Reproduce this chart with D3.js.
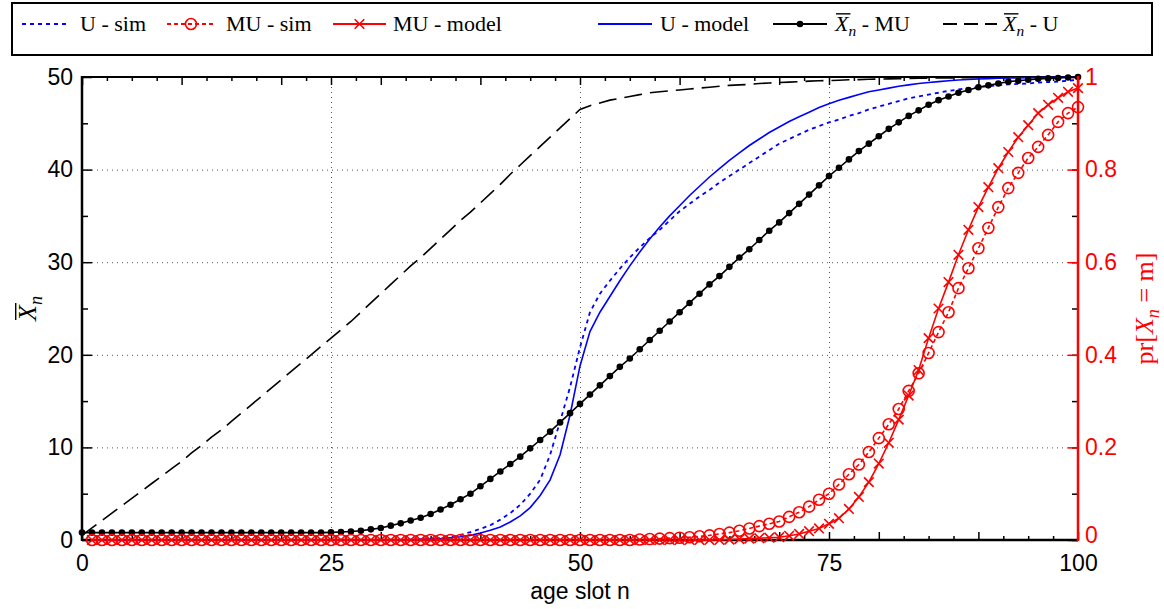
<!DOCTYPE html>
<html>
<head>
<meta charset="utf-8">
<script src="https://cdn.jsdelivr.net/npm/d3@7"></script>
<style>
body{margin:0;background:#fff;}
svg{display:block;}
</style>
</head>
<body>
<svg id="c" width="1164" height="609"></svg>
<script>
// ---------------- DATA ----------------
const ageSlots = d3.range(0, 101);

const xbarU = [0.5,1.3,2.1,2.9,3.7,4.5,5.3,6.1,6.9,7.7,
 8.5,9.4,10.2,11.1,11.9,12.8,13.7,14.6,15.5,16.4,
 17.3,18.2,19.1,20.0,20.9,21.8,22.7,23.6,24.6,25.6,
 26.6,27.6,28.6,29.6,30.5,31.5,32.5,33.5,34.5,35.4,
 36.4,37.4,38.4,39.5,40.5,41.5,42.5,43.5,44.5,45.5,
 46.5,46.9,47.2,47.5,47.7,47.9,48.1,48.3,48.4,48.5,
 48.6,48.7,48.8,48.9,49.0,49.1,49.15,49.2,49.3,49.35,
 49.4,49.45,49.5,49.55,49.6,49.62,49.65,49.7,49.72,49.75,
 49.78,49.8,49.82,49.84,49.86,49.88,49.89,49.9,49.91,49.92,
 49.93,49.94,49.95,49.96,49.97,49.97,49.98,49.98,49.99,49.99,
 50];

const xbarMU = [0.8,0.8,0.8,0.8,0.8,0.8,0.8,0.8,0.8,0.8,
 0.8,0.8,0.8,0.8,0.8,0.8,0.8,0.8,0.8,0.8,
 0.8,0.8,0.8,0.8,0.8,0.82,0.86,0.92,1.0,1.15,
 1.3,1.55,1.8,2.1,2.4,2.8,3.3,3.8,4.4,5.0,
 5.8,6.6,7.4,8.2,9.0,9.9,10.8,11.7,12.7,13.7,
 14.7,15.7,16.7,17.7,18.7,19.6,20.6,21.6,22.6,23.6,
 24.6,25.6,26.6,27.6,28.5,29.5,30.5,31.4,32.4,33.4,
 34.3,35.3,36.3,37.3,38.3,39.3,40.2,41.1,42.0,42.8,
 43.6,44.4,45.1,45.8,46.4,47.0,47.5,47.9,48.3,48.6,
 48.9,49.1,49.3,49.5,49.6,49.7,49.8,49.85,49.9,49.95,
 50];

const uModel = [null,0,0,0,0,0,0,0,0,0,
 0,0,0,0,0,0,0,0,0,0,
 0,0,0,0,0,0,0,0,0,0,
 0,0.02,0.03,0.05,0.07,0.1,0.15,0.25,0.35,0.5,
 0.75,1.05,1.4,1.95,2.6,3.5,4.8,6.5,9.2,13.5,
 18.8,22.5,24.6,26.3,28.0,29.6,31.1,32.5,33.8,35.0,
 36.1,37.2,38.2,39.2,40.1,41.0,41.8,42.6,43.3,44.0,
 44.6,45.2,45.7,46.2,46.7,47.1,47.5,47.8,48.1,48.4,
 48.6,48.8,49.0,49.15,49.3,49.4,49.5,49.6,49.67,49.73,
 49.78,49.82,49.86,49.89,49.91,49.93,49.95,49.96,49.97,49.98,
 50];

const uSim = [null,0,0,0,0,0,0,0,0,0,
 0,0,0,0,0,0,0,0,0,0,
 0,0,0,0,0,0,0,0,0,0,
 0,0,0,0,0.05,0.1,0.2,0.35,0.55,0.85,
 1.2,1.6,2.2,2.9,3.8,5.0,6.5,9.2,12.8,16.5,
 20.8,24.6,26.6,28.0,29.3,30.5,31.6,32.6,33.5,34.5,
 35.5,36.3,37.1,37.8,38.6,39.3,40.0,40.7,41.4,42.1,
 42.8,43.3,43.8,44.3,44.7,45.1,45.4,45.8,46.1,46.5,
 46.8,47.1,47.4,47.7,47.9,48.1,48.3,48.5,48.65,48.8,
 48.9,49.0,49.1,49.2,49.25,49.3,49.4,49.45,49.5,49.6,
 49.7];

const muSim = [null,0,0,0,0,0,0,0,0,0,
 0,0,0,0,0,0,0,0,0,0,
 0,0,0,0,0,0,0,0,0,0,
 0,0,0,0,0,0,0,0,0,0,
 0,0,0,0,0,0,0,0,0,0,
 0,0,0,0,0,0,0.001,0.002,0.003,0.004,
 0.005,0.006,0.008,0.010,0.013,0.016,0.020,0.025,0.030,0.035,
 0.040,0.050,0.060,0.072,0.087,0.100,0.120,0.142,0.163,0.190,
 0.220,0.250,0.283,0.322,0.360,0.404,0.449,0.492,0.544,0.587,
 0.630,0.674,0.719,0.760,0.793,0.825,0.849,0.875,0.903,0.922,
 0.935];

const muModel = [null,0,0,0,0,0,0,0,0,0,
 0,0,0,0,0,0,0,0,0,0,
 0,0,0,0,0,0,0,0,0,0,
 0,0,0,0,0,0,0,0,0,0,
 0,0,0,0,0,0,0,0,0,0,
 0,0,0,0,0,0,0,0,0,0,
 0,0,0,0,0,0.001,0.002,0.003,0.004,0.005,
 0.006,0.009,0.013,0.019,0.025,0.035,0.047,0.067,0.093,0.125,
 0.165,0.210,0.260,0.312,0.367,0.436,0.500,0.557,0.616,0.670,
 0.719,0.762,0.803,0.838,0.870,0.896,0.922,0.940,0.955,0.968,
 0.976];

const xTickLabels = [0, 25, 50, 75, 100];
const yLeftTickLabels = [0, 10, 20, 30, 40, 50];
const yRightTickLabels = [0, 0.2, 0.4, 0.6, 0.8, 1];
const xGridValues = [25, 50, 75];
const yGridValues = [10, 20, 30, 40];
const legendLabels = ["U - sim", "MU - sim", "MU - model", "U - model", " - MU", " - U"];

// ---------------- LAYOUT ----------------
const svg = d3.select('#c');
const L = 82, R = 1078, T = 77, B = 540;
const x = d3.scaleLinear().domain([0, 100]).range([L, R]);
const yL = d3.scaleLinear().domain([0, 50]).range([B, T]);
const yR = d3.scaleLinear().domain([0, 1]).range([B, T]);
const SANS = '"Liberation Sans", Arial, Helvetica, sans-serif';
const SERIF = '"Liberation Serif", "Times New Roman", "DejaVu Serif", serif';
const RED = '#ff0000', BLUE = '#0000ff';
const TICKFONT = '23px';

svg.append('rect').attr('width', 1164).attr('height', 609).attr('fill', '#fff');

// grid
const grid = svg.append('g').attr('stroke', '#555').attr('stroke-width', 1)
  .attr('stroke-dasharray', '1,4');
grid.selectAll('.gx').data(xGridValues).enter().append('line')
  .attr('x1', d => x(d) + 0.5).attr('x2', d => x(d) + 0.5).attr('y1', T).attr('y2', B);
grid.selectAll('.gy').data(yGridValues).enter().append('line')
  .attr('y1', d => yL(d) + 0.5).attr('y2', d => yL(d) + 0.5).attr('x1', L).attr('x2', R);

// tick marks (inward)
function tickAxis(axis, tx, ty, color) {
  const g = svg.append('g').attr('transform', `translate(${tx},${ty})`).call(axis);
  g.select('.domain').remove();
  g.selectAll('line').attr('stroke', color).attr('stroke-width', 1.5);
  g.selectAll('text').remove();
  return g;
}
const xMinor = d3.range(0, 100.001, 2.5);
const xMajor = xMinor.filter(v => v % 10 === 0 || v % 25 === 0);
const xMinorOnly = xMinor.filter(v => !(v % 10 === 0 || v % 25 === 0));
tickAxis(d3.axisTop(x).tickValues(xMinorOnly).tickSize(4).tickSizeOuter(0), 0, B, '#000');
tickAxis(d3.axisTop(x).tickValues(xMajor).tickSize(8).tickSizeOuter(0), 0, B, '#000');
tickAxis(d3.axisBottom(x).tickValues(xMinorOnly).tickSize(4).tickSizeOuter(0), 0, T, '#000');
tickAxis(d3.axisBottom(x).tickValues(xMajor).tickSize(8).tickSizeOuter(0), 0, T, '#000');
const yFive = d3.range(0, 50.001, 5);
tickAxis(d3.axisRight(yL).tickValues(yFive.filter(v => v % 10 !== 0)).tickSize(6).tickSizeOuter(0), L, 0, '#000');
tickAxis(d3.axisRight(yL).tickValues(yFive.filter(v => v % 10 === 0)).tickSize(10).tickSizeOuter(0), L, 0, '#000');
tickAxis(d3.axisLeft(yL).tickValues(yFive).tickSize(6).tickSizeOuter(0), R, 0, '#000');
tickAxis(d3.axisLeft(yR).tickValues(yRightTickLabels).tickSize(10).tickSizeOuter(0), R, 0, RED);

// frame
svg.append('line').attr('x1', L).attr('x2', R + 1).attr('y1', T).attr('y2', T).attr('stroke', '#000').attr('stroke-width', 2);
svg.append('line').attr('x1', L).attr('x2', R).attr('y1', B).attr('y2', B).attr('stroke', '#000').attr('stroke-width', 2.5);
svg.append('line').attr('x1', L).attr('x2', L).attr('y1', T - 1).attr('y2', B + 1).attr('stroke', '#000').attr('stroke-width', 2.5);

// tick labels through axes
function labelAxis(axis, tx, ty, color) {
  const g = svg.append('g').attr('transform', `translate(${tx},${ty})`).call(axis);
  g.select('.domain').remove();
  g.selectAll('line').remove();
  g.selectAll('text').attr('fill', color).style('font-family', SANS).style('font-size', TICKFONT);
  return g;
}
labelAxis(d3.axisBottom(x).tickValues(xTickLabels).tickSize(0).tickPadding(15).tickFormat(d3.format('d')), 0, B, '#000');
labelAxis(d3.axisLeft(yL).tickValues(yLeftTickLabels).tickSize(0).tickPadding(9).tickFormat(d3.format('d')), L, 0, '#000');
const rightLabels = labelAxis(d3.axisRight(yR).tickValues(yRightTickLabels).tickSize(0).tickPadding(7)
  .tickFormat(d => String(+d.toFixed(1))), R, 0, RED);
// keep the red "0" clear of the "100" below it
rightLabels.selectAll('.tick').filter(d => d === 0).select('text').attr('dy', '0.1em');

// axis titles
svg.append('text').attr('x', 580).attr('y', 599).attr('text-anchor', 'middle')
  .style('font-family', SANS).style('font-size', TICKFONT).attr('fill', '#000').text('age slot n');

// helper: overlined X with subscript n
function xbarLabel(parent, x0, y0, suffix, size, color) {
  const t = parent.append('text').attr('x', x0).attr('y', y0)
    .style('font-family', SERIF).style('font-size', size + 'px').attr('fill', color);
  t.append('tspan').style('font-style', 'italic').text('X');
  t.append('tspan').style('font-style', 'italic').style('font-size', (size * 0.7) + 'px')
    .attr('dy', size * 0.22).text('n');
  t.append('tspan').attr('dy', -size * 0.22).text(suffix);
  const wX = t.node().getSubStringLength(0, 1);
  parent.append('line').attr('x1', x0 + 1).attr('x2', x0 + wX + 2)
    .attr('y1', y0 - size * 0.78).attr('y2', y0 - size * 0.78)
    .attr('stroke', color).attr('stroke-width', 1.4);
  return t;
}

// left y title
{
  const g = svg.append('g').attr('transform', `translate(36,${(T + B) / 2}) rotate(-90)`);
  const t = xbarLabel(g, 0, 0, '', 26, '#000');
  const w = t.node().getComputedTextLength();
  g.attr('transform', `translate(36,${(T + B) / 2 + w / 2}) rotate(-90)`);
}
// right y title
{
  const size = 26;
  const g = svg.append('g');
  const t = g.append('text').style('font-family', SERIF).style('font-size', size + 'px').attr('fill', RED);
  t.append('tspan').text('pr[');
  t.append('tspan').style('font-style', 'italic').text('X');
  t.append('tspan').style('font-style', 'italic').style('font-size', (size * 0.7) + 'px').attr('dy', size * 0.22).text('n');
  t.append('tspan').attr('dy', -size * 0.22).text(' = m]');
  const w = t.node().getComputedTextLength();
  g.attr('transform', `translate(1153,${(T + B) / 2 + w / 2}) rotate(-90)`);
}

// ---------------- SERIES ----------------
const pts = (arr) => ageSlots.map((n, i) => ({ n, v: arr[i] })).filter(d => d.v !== null);
const lineL = d3.line().x(d => x(d.n)).y(d => yL(d.v));
const lineR = d3.line().x(d => x(d.n)).y(d => yR(d.v));

const plot = svg.append('g');
// Xbar_n - U (dashed)
plot.append('path').datum(pts(xbarU)).attr('d', lineL).attr('fill', 'none')
  .attr('stroke', '#000').attr('stroke-width', 1.6).attr('stroke-dasharray', '18,8');
// U - sim (dotted blue)
plot.append('path').datum(pts(uSim)).attr('d', lineL).attr('fill', 'none')
  .attr('stroke', BLUE).attr('stroke-width', 1.8).attr('stroke-dasharray', '4,4');
// U - model (solid blue)
plot.append('path').datum(pts(uModel)).attr('d', lineL).attr('fill', 'none')
  .attr('stroke', BLUE).attr('stroke-width', 1.6);
// Xbar_n - MU (black solid with dots)
plot.append('path').datum(pts(xbarMU)).attr('d', lineL).attr('fill', 'none')
  .attr('stroke', '#000').attr('stroke-width', 1.6);
plot.selectAll('.dot').data(pts(xbarMU)).enter().append('circle')
  .attr('cx', d => x(d.n)).attr('cy', d => yL(d.v)).attr('r', 3.3).attr('fill', '#000');
// MU - sim (red dash-dot with circles)
plot.append('path').datum(pts(muSim)).attr('d', lineR).attr('fill', 'none')
  .attr('stroke', RED).attr('stroke-width', 1.6).attr('stroke-dasharray', '4,3');
plot.selectAll('.circ').data(pts(muSim)).enter().append('circle')
  .attr('cx', d => x(d.n)).attr('cy', d => yR(d.v)).attr('r', 5.5)
  .attr('fill', 'none').attr('stroke', RED).attr('stroke-width', 1.6);
// MU - model (red solid with crosses)
plot.append('path').datum(pts(muModel)).attr('d', lineR).attr('fill', 'none')
  .attr('stroke', RED).attr('stroke-width', 1.6);
const cs = 4.8;
plot.selectAll('.cross').data(pts(muModel)).enter().append('path')
  .attr('d', d => { const cx = x(d.n), cy = yR(d.v);
    return `M${cx - cs},${cy - cs}L${cx + cs},${cy + cs}M${cx - cs},${cy + cs}L${cx + cs},${cy - cs}`; })
  .attr('stroke', RED).attr('stroke-width', 1.6).attr('fill', 'none');

// right axis line (red)
svg.append('line').attr('x1', R).attr('x2', R).attr('y1', T - 1).attr('y2', B + 1)
  .attr('stroke', RED).attr('stroke-width', 2.5);

// ---------------- LEGEND ----------------
const lg = svg.append('g');
lg.append('rect').attr('x', 12).attr('y', 3).attr('width', 1140).attr('height', 52)
  .attr('fill', '#fff').attr('stroke', '#000').attr('stroke-width', 2);
const ly = 24, lb = 31;
const legendItems = [
  { x1: 22, x2: 70, tx: 80, color: BLUE, dash: '4,4', mark: null },
  { x1: 167, x2: 215, tx: 226, color: RED, dash: '4,3', mark: 'o' },
  { x1: 333, x2: 386, tx: 393, color: RED, dash: null, mark: 'x' },
  { x1: 598, x2: 652, tx: 660, color: BLUE, dash: null, mark: null },
  { x1: 773, x2: 827, tx: 835, color: '#000', dash: null, mark: '.' },
  { x1: 943, x2: 997, tx: 1003, color: '#000', dash: '14,7', mark: null }
];
legendItems.forEach((it, i) => {
  lg.append('line').attr('x1', it.x1).attr('x2', it.x2).attr('y1', ly).attr('y2', ly)
    .attr('stroke', it.color).attr('stroke-width', 1.8)
    .attr('stroke-dasharray', it.dash);
  const mx = (it.x1 + it.x2) / 2;
  if (it.mark === 'o') lg.append('circle').attr('cx', mx).attr('cy', ly).attr('r', 5.5)
    .attr('fill', 'none').attr('stroke', it.color).attr('stroke-width', 1.6);
  if (it.mark === 'x') lg.append('path')
    .attr('d', `M${mx - cs},${ly - cs}L${mx + cs},${ly + cs}M${mx - cs},${ly + cs}L${mx + cs},${ly - cs}`)
    .attr('stroke', it.color).attr('stroke-width', 1.6);
  if (it.mark === '.') lg.append('circle').attr('cx', mx).attr('cy', ly).attr('r', 3.3).attr('fill', it.color);
  if (i < 4) {
    lg.append('text').attr('x', it.tx).attr('y', lb).style('font-family', SERIF)
      .style('font-size', '22px').attr('fill', '#000').text(legendLabels[i]);
  } else {
    xbarLabel(lg, it.tx, lb, legendLabels[i], 22, '#000');
  }
});
</script>
</body>
</html>
